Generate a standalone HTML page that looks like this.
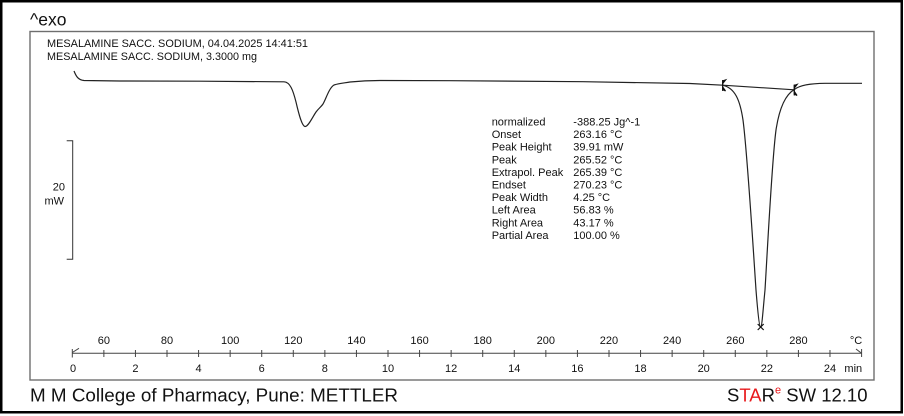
<!DOCTYPE html>
<html>
<head>
<meta charset="utf-8">
<style>
  html,body{margin:0;padding:0;background:#fff;}
  svg{display:block;}
  text{font-family:"Liberation Sans", Arial, sans-serif;fill:#111;}
</style>
</head>
<body>
<svg width="904" height="416" viewBox="0 0 904 416" xmlns="http://www.w3.org/2000/svg">
  <!-- outer border -->
  <rect x="1.25" y="1.25" width="900.5" height="411" fill="#fff" stroke="#000" stroke-width="2.5"/>
  <!-- inner frame -->
  <rect x="30" y="31.5" width="844" height="348.5" fill="none" stroke="#6e6e6e" stroke-width="1.4"/>

  <!-- ^exo -->
  <text x="30" y="25.5" font-size="17.5">^exo</text>

  <!-- header -->
  <text x="47" y="47" font-size="11" textLength="261" lengthAdjust="spacingAndGlyphs">MESALAMINE SACC. SODIUM, 04.04.2025 14:41:51</text>
  <text x="47" y="60" font-size="11" textLength="210" lengthAdjust="spacingAndGlyphs">MESALAMINE SACC. SODIUM, 3.3000 mg</text>

  <!-- scale bar -->
  <g stroke="#333" stroke-width="1" fill="none">
    <polyline points="66.7,140.7 72.7,140.7 72.7,259.3 66.7,259.3"/>
  </g>
  <text x="65" y="190.5" font-size="11" text-anchor="end">20</text>
  <text x="64" y="204.5" font-size="11" text-anchor="end">mW</text>

  <!-- curve -->
  <path d="M74,71 C76,76 78,80 84,80.5 L120,81 L200,81.2 L284,81.8
           C290,82 293,90 296,102 C299,115 302,126 305,126.5
           C308,127 312,118 316,112 C319,108 321,107 323,104
           C326,99 329,88 334,85 C340,83 345,83 350,82
           C360,81 370,80.5 380,80.5 L450,80.7 L583,81.7 L690,83.5 L722.7,85.2
           C735,88 740,100 743,120 C747,150 752,230 756,290
           C758,315 759.5,327 760.7,327 C762,327 763,310 765,290
           C768,240 772,160 776,130 C779,110 785,95 794.3,89.5
           C800,85 810,83.5 825,83.3 L862,83.3"
        fill="none" stroke="#222" stroke-width="1.2"/>
  <!-- integration baseline -->
  <line x1="722.7" y1="85.2" x2="794.3" y2="89.8" stroke="#222" stroke-width="1.1"/>
  <!-- boundary markers -->
  <g stroke="#111" stroke-width="1.2" fill="#111">
    <line x1="722.7" y1="80" x2="722.7" y2="91"/>
    <polygon points="722.7,81 725.5,80 722.7,83.5"/>
    <polygon points="722.7,89.5 725.5,91 722.7,87"/>
    <line x1="794.3" y1="84.5" x2="794.3" y2="95.5"/>
    <polygon points="794.3,85.5 797,84.5 794.3,88"/>
    <polygon points="794.3,94 797,95.5 794.3,91.5"/>
  </g>
  <!-- peak marker -->
  <g stroke="#111" stroke-width="1.2">
    <line x1="757.7" y1="324" x2="763.7" y2="330"/>
    <line x1="763.7" y1="324" x2="757.7" y2="330"/>
  </g>

  <!-- results table -->
  <g font-size="11">
    <text x="491.7" y="125.5">normalized</text>
    <text x="491.7" y="138.1">Onset</text>
    <text x="491.7" y="150.7">Peak Height</text>
    <text x="491.7" y="163.3">Peak</text>
    <text x="491.7" y="175.9">Extrapol. Peak</text>
    <text x="491.7" y="188.5">Endset</text>
    <text x="491.7" y="201.1">Peak Width</text>
    <text x="491.7" y="213.7">Left Area</text>
    <text x="491.7" y="226.3">Right Area</text>
    <text x="491.7" y="238.9">Partial Area</text>
    <text x="573.3" y="125.5">-388.25 Jg^-1</text>
    <text x="573.3" y="138.1">263.16 °C</text>
    <text x="573.3" y="150.7">39.91 mW</text>
    <text x="573.3" y="163.3">265.52 °C</text>
    <text x="573.3" y="175.9">265.39 °C</text>
    <text x="573.3" y="188.5">270.23 °C</text>
    <text x="573.3" y="201.1">4.25 °C</text>
    <text x="573.3" y="213.7">56.83 %</text>
    <text x="573.3" y="226.3">43.17 %</text>
    <text x="573.3" y="238.9">100.00 %</text>
  </g>

  <!-- axis -->
  <g stroke="#444" stroke-width="1">
    <line x1="72.3" y1="353.3" x2="861.6" y2="353.3"/>
    <line x1="72.3" y1="349" x2="72.3" y2="357.5"/>
    <line x1="72.3" y1="352.5" x2="79" y2="348.3"/>
    <line x1="856" y1="349" x2="861.6" y2="353.3"/>
    <line x1="861.6" y1="349" x2="861.6" y2="357"/>
    <line x1="103.87" y1="350" x2="103.87" y2="357"/>
    <line x1="135.44" y1="350" x2="135.44" y2="357"/>
    <line x1="167.01" y1="350" x2="167.01" y2="357"/>
    <line x1="198.58" y1="350" x2="198.58" y2="357"/>
    <line x1="230.15" y1="350" x2="230.15" y2="357"/>
    <line x1="261.72" y1="350" x2="261.72" y2="357"/>
    <line x1="293.29" y1="350" x2="293.29" y2="357"/>
    <line x1="324.86" y1="350" x2="324.86" y2="357"/>
    <line x1="356.43" y1="350" x2="356.43" y2="357"/>
    <line x1="388" y1="350" x2="388" y2="357"/>
    <line x1="419.57" y1="350" x2="419.57" y2="357"/>
    <line x1="451.14" y1="350" x2="451.14" y2="357"/>
    <line x1="482.71" y1="350" x2="482.71" y2="357"/>
    <line x1="514.28" y1="350" x2="514.28" y2="357"/>
    <line x1="545.85" y1="350" x2="545.85" y2="357"/>
    <line x1="577.42" y1="350" x2="577.42" y2="357"/>
    <line x1="608.99" y1="350" x2="608.99" y2="357"/>
    <line x1="640.56" y1="350" x2="640.56" y2="357"/>
    <line x1="672.13" y1="350" x2="672.13" y2="357"/>
    <line x1="703.7" y1="350" x2="703.7" y2="357"/>
    <line x1="735.27" y1="350" x2="735.27" y2="357"/>
    <line x1="766.84" y1="350" x2="766.84" y2="357"/>
    <line x1="798.41" y1="350" x2="798.41" y2="357"/>
    <line x1="829.98" y1="350" x2="829.98" y2="357"/>
  </g>
  <g font-size="11" text-anchor="middle">
    <text x="103.87" y="344">60</text>
    <text x="167.01" y="344">80</text>
    <text x="230.15" y="344">100</text>
    <text x="293.29" y="344">120</text>
    <text x="356.43" y="344">140</text>
    <text x="419.57" y="344">160</text>
    <text x="482.71" y="344">180</text>
    <text x="545.85" y="344">200</text>
    <text x="608.99" y="344">220</text>
    <text x="672.13" y="344">240</text>
    <text x="735.27" y="344">260</text>
    <text x="798.41" y="344">280</text>
    <text x="856" y="344">°C</text>
    <text x="73" y="372">0</text>
    <text x="135.44" y="372">2</text>
    <text x="198.58" y="372">4</text>
    <text x="261.72" y="372">6</text>
    <text x="324.86" y="372">8</text>
    <text x="388" y="372">10</text>
    <text x="451.14" y="372">12</text>
    <text x="514.28" y="372">14</text>
    <text x="577.42" y="372">16</text>
    <text x="640.56" y="372">18</text>
    <text x="703.7" y="372">20</text>
    <text x="766.84" y="372">22</text>
    <text x="829.98" y="372">24</text>
    <text x="853.3" y="372">min</text>
  </g>

  <!-- footer -->
  <text x="30" y="401.5" font-size="18.5" textLength="368" lengthAdjust="spacingAndGlyphs">M M College of Pharmacy, Pune: METTLER</text>
  <text x="727" y="401.5" font-size="18.5"><tspan fill="#111">S</tspan><tspan fill="#e8191c">TA</tspan><tspan fill="#111">R</tspan><tspan fill="#e8191c" font-size="11" dy="-8">e</tspan><tspan fill="#111" dy="8"> SW 12.10</tspan></text>
</svg>
</body>
</html>
